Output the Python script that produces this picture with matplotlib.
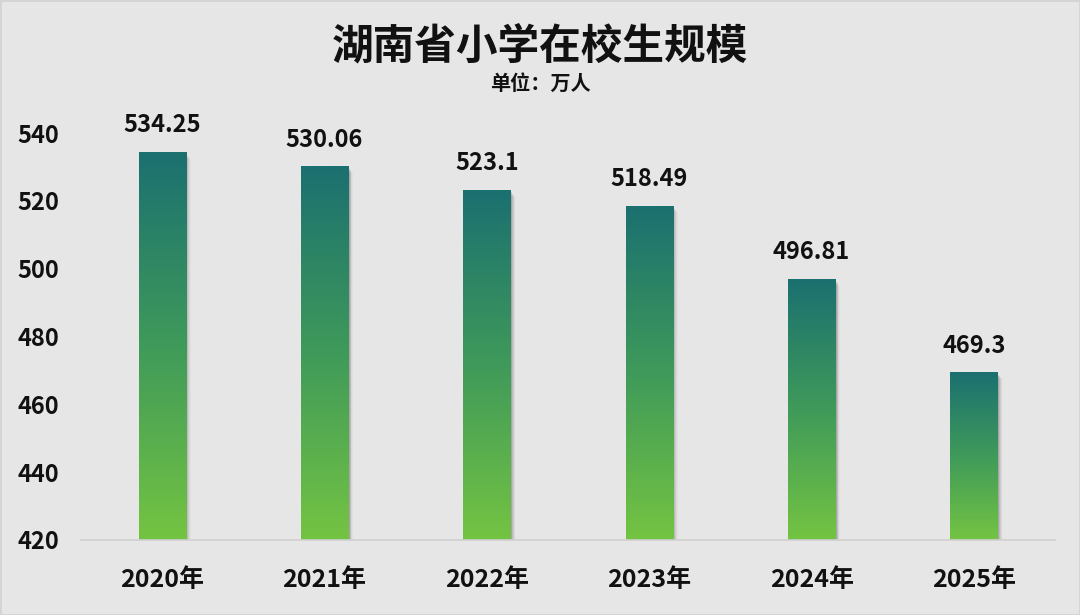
import numpy as np
import matplotlib
matplotlib.use('Agg')
import matplotlib.pyplot as plt
from matplotlib.colors import LinearSegmentedColormap
from matplotlib.patches import Rectangle

plt.rcParams['font.family'] = ['Noto Sans CJK SC', 'DejaVu Sans']

years = ['2020年', '2021年', '2022年', '2023年', '2024年', '2025年']
values = [534.25, 530.06, 523.1, 518.49, 496.81, 469.3]
labels = ['534.25', '530.06', '523.1', '518.49', '496.81', '469.3']
ymin, ymax = 420, 550
bar_w = 0.29

bg = '#e6e6e6'
cmap = LinearSegmentedColormap.from_list('g', ['#74c442', '#3f9a5a', '#1b7070'])

fig = plt.figure(figsize=(10.8, 6.15), dpi=100, facecolor=bg)
ax = fig.add_axes([0.075, 0.122, 0.902, 0.7166])
ax.set_facecolor(bg)

grad = np.linspace(0, 1, 256).reshape(-1, 1)
for i, v in enumerate(values):
    x0 = i - bar_w / 2
    # soft shadow on the right
    for k, a in enumerate([0.16, 0.12, 0.08, 0.05, 0.03]):
        ax.add_patch(Rectangle((x0 + 0.010 + k * 0.005, ymin), bar_w, v - ymin - 0.6 - k * 0.3,
                               facecolor='#444444', alpha=a, edgecolor='none', zorder=1))
    ax.imshow(grad, cmap=cmap, aspect='auto', origin='lower',
              extent=[x0, x0 + bar_w, ymin, v], zorder=2)
    ax.text(i, v + 4.5, labels[i], ha='center', va='bottom', fontsize=17,
            fontweight='bold', color='#111111', zorder=3)

ax.set_xlim(-0.5, 5.5)
ax.set_ylim(ymin, ymax)
ax.set_yticks(range(420, 541, 20))
ax.set_xticks(range(len(years)))
ax.set_xticklabels(years)
for s in ['top', 'right', 'left']:
    ax.spines[s].set_visible(False)
ax.spines['bottom'].set_color('#d0d0d0')
ax.spines['bottom'].set_linewidth(1.2)
ax.spines['bottom'].set_zorder(4)
ax.tick_params(axis='y', length=0, pad=16, labelsize=17, labelcolor='#111111')
ax.tick_params(axis='x', length=0, pad=20, labelsize=18, labelcolor='#111111')
for t in ax.get_yticklabels() + ax.get_xticklabels():
    t.set_fontweight('bold')

fig.text(0.5, 0.925, '湖南省小学在校生规模', ha='center', va='center',
         fontsize=30, fontweight='bold', color='#111111')
fig.text(0.5, 0.865, '单位：万人', ha='center', va='center',
         fontsize=14.5, fontweight='bold', color='#111111')

fig.add_artist(Rectangle((0, 0), 1, 1, transform=fig.transFigure, fill=False,
                         edgecolor='#d4d4d4', linewidth=2))

fig.savefig('out.png', dpi=100, facecolor=bg)
